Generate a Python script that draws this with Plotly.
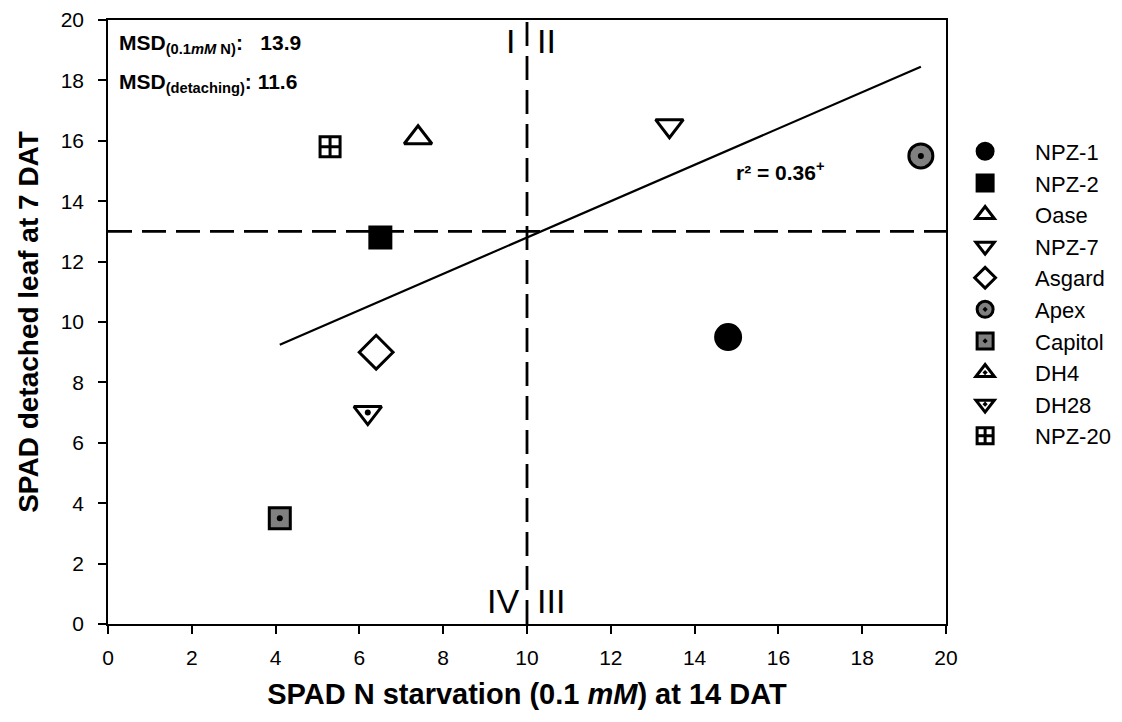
import plotly.graph_objects as go

# Genotype means: SPAD under N starvation (x) vs SPAD of detached leaf (y)
genotypes = ["NPZ-1", "NPZ-2", "Oase", "NPZ-7", "Asgard", "Apex", "Capitol", "DH4", "DH28", "NPZ-20"]
spad_starvation = [14.8, 6.5, 7.4, 13.4, 6.4, 19.4, 4.1, None, 6.2, 5.3]
spad_detached = [9.5, 12.8, 16.1, 16.5, 9.0, 15.5, 3.5, None, 7.0, 15.8]

# Linear fit drawn over the observed x range
fit_x = [4.1, 19.4]
fit_y = [9.25, 18.45]

# Means of each axis used as quadrant thresholds
mean_x = 10.0
mean_y = 13.0

x_ticks = [0, 2, 4, 6, 8, 10, 12, 14, 16, 18, 20]
y_ticks = [0, 2, 4, 6, 8, 10, 12, 14, 16, 18, 20]

FONT = "Arial, Liberation Sans, sans-serif"
GREY = "#808080"

styles = {
    "NPZ-1": dict(symbol="circle", color="black", size=25, dot=False),
    "NPZ-2": dict(symbol="square", color="black", size=21, dot=False),
    "Oase": dict(symbol="triangle-up", color="white", size=24, dot=False),
    "NPZ-7": dict(symbol="triangle-down", color="white", size=24, dot=False),
    "Asgard": dict(symbol="diamond", color="white", size=26, dot=False),
    "Apex": dict(symbol="circle-dot", color=GREY, size=24, dot=True),
    "Capitol": dict(symbol="square-dot", color=GREY, size=21, dot=True),
    "DH4": dict(symbol="triangle-up-dot", color="white", size=24, dot=True),
    "DH28": dict(symbol="triangle-down-dot", color="white", size=24, dot=True),
    "NPZ-20": dict(symbol="square-cross", color="white", size=20, dot=False),
}

fig = go.Figure()

fig.add_trace(go.Scatter(
    x=fit_x, y=fit_y, mode="lines",
    line=dict(color="black", width=2.2), showlegend=False, hoverinfo="skip",
))

for i, name in enumerate(genotypes):
    st = styles[name]
    fig.add_trace(go.Scatter(
        x=[spad_starvation[i]], y=[spad_detached[i]], mode="markers", name=name,
        legendgroup=name,
        marker=dict(symbol=st["symbol"], color=st["color"], size=st["size"],
                    line=dict(color="black", width=3)),
    ))
    if st["dot"]:
        # centre dot of the dotted symbols
        fig.add_trace(go.Scatter(
            x=[spad_starvation[i]], y=[spad_detached[i]], mode="markers",
            legendgroup=name, showlegend=False, hoverinfo="skip",
            marker=dict(symbol="circle", color="black", size=6, line=dict(width=0)),
        ))

# Quadrant threshold lines
fig.add_shape(type="line", x0=0, x1=20, y0=mean_y, y1=mean_y, xref="x", yref="y",
              line=dict(color="black", width=2.8, dash="24px,10px"))
fig.add_shape(type="line", x0=mean_x, x1=mean_x, y0=0, y1=20, xref="x", yref="y",
              line=dict(color="black", width=2.8, dash="24px,10px"))

roman = dict(font=dict(family=FONT, size=34, color="black"), showarrow=False,
             xref="x", yref="y")
fig.add_annotation(x=mean_x, y=20, text="I", xanchor="right", yanchor="top",
                   xshift=-10, yshift=0, **roman)
fig.add_annotation(x=mean_x, y=20, text="II", xanchor="left", yanchor="top",
                   xshift=8, yshift=0, **roman)
fig.add_annotation(x=mean_x, y=0, text="IV", xanchor="right", yanchor="bottom",
                   xshift=-6, yshift=2, **roman)
fig.add_annotation(x=mean_x, y=0, text="III", xanchor="left", yanchor="bottom",
                   xshift=8, yshift=2, **roman)

txt = dict(font=dict(family=FONT, size=21, color="black"), showarrow=False,
           xref="paper", yref="paper", xanchor="left", yanchor="middle", align="left")
fig.add_annotation(x=0.011, y=0.96,
                   text="<b>MSD<sub>(0.1<i>mM</i> N)</sub>:   13.9</b>", **txt)
fig.add_annotation(x=0.011, y=0.895,
                   text="<b>MSD<sub>(detaching)</sub>: 11.6</b>", **txt)
fig.add_annotation(x=16.05, y=15.0, xref="x", yref="y", showarrow=False,
                   text="<b>r² = 0.36<sup>+</sup></b>",
                   font=dict(family=FONT, size=21, color="black"))

axis_common = dict(
    showline=True, linecolor="black", linewidth=1.5, mirror=True,
    ticks="outside", ticklen=8, tickwidth=1.5, tickcolor="black",
    showgrid=False, zeroline=False, automargin=False,
    tickfont=dict(family=FONT, size=21, color="black"),
)

fig.update_xaxes(range=[0, 20], tickvals=x_ticks, ticklabelstandoff=6, **axis_common,
                 title=dict(text="<b>SPAD N starvation (0.1 <i>mM</i>) at 14 DAT</b>",
                            font=dict(family=FONT, size=29, color="black"), standoff=16))
fig.update_yaxes(range=[0, 20], tickvals=y_ticks, ticklabelstandoff=10, **axis_common,
                 title=dict(text="<b>SPAD detached leaf at 7 DAT</b>",
                            font=dict(family=FONT, size=28, color="black"), standoff=14))

fig.update_layout(
    width=1122, height=722,
    margin=dict(l=108, r=176, t=20, b=98, autoexpand=False),
    plot_bgcolor="white", paper_bgcolor="white",
    legend=dict(x=0.987, y=0.817, xanchor="left", yanchor="top",
                font=dict(family=FONT, size=22, color="black"),
                tracegroupgap=0, itemwidth=90, itemsizing="trace",
                bgcolor="rgba(0,0,0,0)"),
    font=dict(family=FONT),
)

fig.write_html("out.html")
